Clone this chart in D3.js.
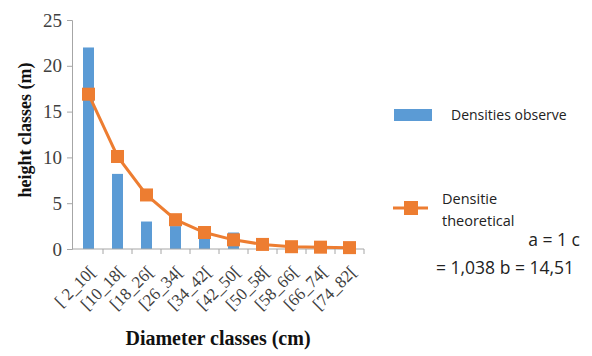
<!DOCTYPE html>
<html>
<head>
<meta charset="utf-8">
<script src="https://cdn.jsdelivr.net/npm/d3@7"></script>
<style>
  body { margin: 0; background: #fff; }
  svg { display: block; }
</style>
</head>
<body>
<div id="content"></div>
<script>
// dimensions
var width = 592;
var height = 356;

// data
var categories = ["[ 2_10[", "[10_18[", "[18_26[", "[26_34[", "[34_42[", "[42_50[", "[50_58[", "[58_66[", "[66_74[", "[74_82["];
var observed = [22, 8.2, 3, 2.5, 1.2, 1.8, 0, 0, 0, 0];
var theoretical = [16.9, 10.1, 5.9, 3.2, 1.8, 1.0, 0.5, 0.25, 0.2, 0.15];
var yTicks = [0, 5, 10, 15, 20, 25];

var blue = "#5b9bd5";
var orange = "#ed7d31";
var serif = "'Liberation Serif', 'DejaVu Serif', serif";
var legendFont = "'Open Sans', 'Liberation Sans', sans-serif";

var svg = d3.select("#content")
  .append("svg")
  .attr("width", width)
  .attr("height", height);

var x = d3.scaleBand()
  .domain(categories)
  .range([74, 364]);

var y = d3.scaleLinear()
  .domain([0, 25])
  .range([249, 20]);

// y axis
var yAxis = svg.append("g")
  .attr("transform", "translate(72,0)")
  .call(d3.axisLeft(y).tickValues(yTicks).tickSize(5).tickPadding(5));
yAxis.select(".domain").attr("stroke", "#a6a6a6");
yAxis.selectAll(".tick line").attr("stroke", "#a6a6a6");
yAxis.selectAll("text")
  .style("font-family", serif)
  .style("font-size", "19px")
  .attr("fill", "#404040");

// bars
svg.append("g")
  .selectAll("rect")
  .data(observed)
  .enter().append("rect")
  .attr("x", function(d, i) { return x(categories[i]) + x.bandwidth() / 2 - 5.5; })
  .attr("y", function(d) { return y(d); })
  .attr("width", 11)
  .attr("height", function(d) { return y(0) - y(d); })
  .attr("fill", blue);

// x axis
var xAxis = svg.append("g")
  .attr("transform", "translate(0,249)")
  .call(d3.axisBottom(x).tickSize(0).tickSizeOuter(0));
xAxis.select(".domain").attr("stroke", "#a6a6a6").attr("d", "M72,0H364");
xAxis.selectAll(".tick line").remove();
// boundary ticks between classes
svg.append("g")
  .selectAll("line")
  .data(categories)
  .enter().append("line")
  .attr("x1", function(d) { return x(d) + x.bandwidth(); })
  .attr("x2", function(d) { return x(d) + x.bandwidth(); })
  .attr("y1", 249)
  .attr("y2", 254)
  .attr("stroke", "#a6a6a6");
xAxis.selectAll("text")
  .style("font-family", serif)
  .style("font-size", "17px")
  .attr("fill", "#404040")
  .attr("text-anchor", "end")
  .attr("dy", null)
  .attr("y", 0)
  .attr("transform", "translate(8,24) rotate(-45)");

// theoretical line
var line = d3.line()
  .x(function(d, i) { return x(categories[i]) + x.bandwidth() / 2; })
  .y(function(d) { return y(d); });

svg.append("path")
  .datum(theoretical)
  .attr("d", line)
  .attr("fill", "none")
  .attr("stroke", orange)
  .attr("stroke-width", 3);

svg.append("g")
  .selectAll("rect")
  .data(theoretical)
  .enter().append("rect")
  .attr("x", function(d, i) { return x(categories[i]) + x.bandwidth() / 2 - 6.5; })
  .attr("y", function(d) { return y(d) - 6.5; })
  .attr("width", 13)
  .attr("height", 13)
  .attr("fill", orange);

// axis titles
svg.append("text")
  .attr("x", 218)
  .attr("y", 345)
  .attr("text-anchor", "middle")
  .style("font-family", serif)
  .style("font-size", "20px")
  .style("font-weight", "bold")
  .attr("fill", "#111")
  .text("Diameter classes (cm)");

svg.append("text")
  .attr("transform", "translate(31,130) rotate(-90)")
  .attr("text-anchor", "middle")
  .style("font-family", serif)
  .style("font-size", "18px")
  .style("font-weight", "bold")
  .attr("fill", "#111")
  .text("height classes (m)");

// legend
svg.append("rect")
  .attr("x", 394)
  .attr("y", 109)
  .attr("width", 38)
  .attr("height", 12)
  .attr("fill", blue);
svg.append("text")
  .attr("x", 451)
  .attr("y", 120)
  .style("font-family", legendFont)
  .style("font-size", "14px")
  .attr("fill", "#222")
  .text("Densities observe");

svg.append("line")
  .attr("x1", 393).attr("x2", 428)
  .attr("y1", 208).attr("y2", 208)
  .attr("stroke", orange)
  .attr("stroke-width", 3);
svg.append("rect")
  .attr("x", 404).attr("y", 201)
  .attr("width", 14).attr("height", 14)
  .attr("fill", orange);
svg.append("text")
  .attr("x", 442)
  .attr("y", 204)
  .style("font-family", legendFont)
  .style("font-size", "14.5px")
  .attr("fill", "#222")
  .text("Densitie");
svg.append("text")
  .attr("x", 442)
  .attr("y", 226)
  .style("font-family", legendFont)
  .style("font-size", "14.5px")
  .attr("fill", "#222")
  .text("theoretical");

svg.append("text")
  .attr("x", 580)
  .attr("y", 246)
  .attr("text-anchor", "end")
  .style("font-family", legendFont)
  .style("font-size", "17.5px")
  .attr("fill", "#222")
  .text("a = 1 c");
svg.append("text")
  .attr("x", 436)
  .attr("y", 274)
  .style("font-family", legendFont)
  .style("font-size", "17.5px")
  .attr("fill", "#222")
  .text("= 1,038 b = 14,51");
</script>
</body>
</html>
